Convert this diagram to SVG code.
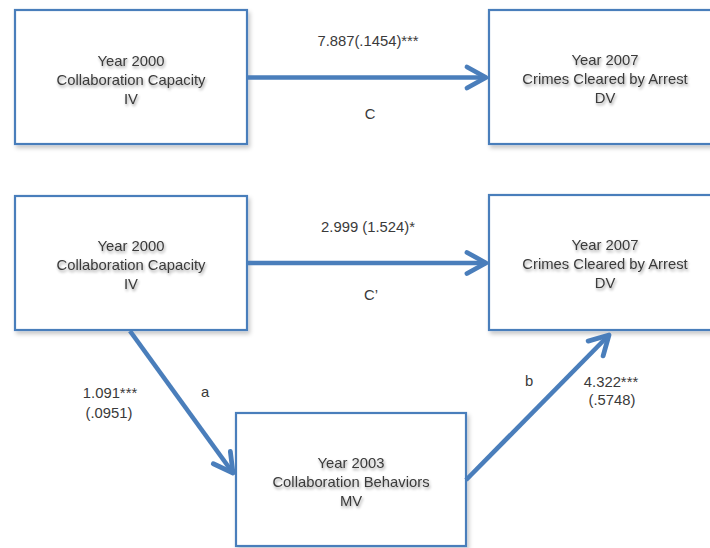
<svg xmlns="http://www.w3.org/2000/svg" width="710" height="548" viewBox="0 0 710 548">
  <defs>
    <style>
      .box { fill: #ffffff; stroke: #4a7ebb; stroke-width: 2.2; filter: url(#boxShadow); }
      .lbl { font-family: "Liberation Sans", Arial, sans-serif; font-size: 14.8px; fill: #3a3a3a; text-anchor: middle; }
      .node-text { filter: url(#textShadow); }
      .conn { stroke: #4a7ebb; stroke-width: 4.6; fill: none; marker-end: url(#openArrow); }
    </style>
    <filter id="boxShadow" x="-10%" y="-10%" width="125%" height="130%">
      <feDropShadow dx="2" dy="3" stdDeviation="2" flood-color="#000" flood-opacity="0.22"/>
    </filter>
    <filter id="textShadow" x="-10%" y="-20%" width="130%" height="160%">
      <feGaussianBlur in="SourceAlpha" stdDeviation="1.7" result="b"/>
      <feOffset in="b" dx="1" dy="2" result="o"/>
      <feComponentTransfer in="o" result="s">
        <feFuncA type="linear" slope="0.4"/>
      </feComponentTransfer>
      <feMerge>
        <feMergeNode in="s"/>
        <feMergeNode in="SourceGraphic"/>
      </feMerge>
    </filter>
    <marker id="openArrow" markerUnits="userSpaceOnUse" viewBox="-26 -15 30 30" refX="0" refY="0" markerWidth="30" markerHeight="30" orient="auto" overflow="visible">
      <path d="M -19 -10.5 L 0 0 L -19 10.5" fill="none" stroke="#4a7ebb" stroke-width="4.8" stroke-linecap="round" stroke-linejoin="round"/>
    </marker>
  </defs>

  <!-- Total effect model -->
  <g id="iv-top">
    <rect class="box" x="15" y="10" width="232" height="134"/>
    <g class="node-text">
      <text class="lbl" x="131" y="66">Year 2000</text>
      <text class="lbl" x="131" y="85">Collaboration Capacity</text>
      <text class="lbl" x="131" y="104">IV</text>
    </g>
  </g>
  <g id="dv-top">
    <rect class="box" x="489" y="10" width="240" height="134"/>
    <g class="node-text">
      <text class="lbl" x="605" y="65">Year 2007</text>
      <text class="lbl" x="605" y="84">Crimes Cleared by Arrest</text>
      <text class="lbl" x="605" y="103">DV</text>
    </g>
  </g>

  <!-- Mediation model -->
  <g id="iv-bottom">
    <rect class="box" x="15" y="196" width="232" height="134"/>
    <g class="node-text">
      <text class="lbl" x="131" y="251">Year 2000</text>
      <text class="lbl" x="131" y="270">Collaboration Capacity</text>
      <text class="lbl" x="131" y="289">IV</text>
    </g>
  </g>
  <g id="dv-bottom">
    <rect class="box" x="489" y="195" width="240" height="135"/>
    <g class="node-text">
      <text class="lbl" x="605" y="250">Year 2007</text>
      <text class="lbl" x="605" y="269">Crimes Cleared by Arrest</text>
      <text class="lbl" x="605" y="288">DV</text>
    </g>
  </g>
  <g id="mv">
    <rect class="box" x="236" y="413" width="230" height="133"/>
    <g class="node-text">
      <text class="lbl" x="351" y="468">Year 2003</text>
      <text class="lbl" x="351" y="487">Collaboration Behaviors</text>
      <text class="lbl" x="351" y="506">MV</text>
    </g>
  </g>

  <!-- Paths between variables -->
  <g id="connectors">
    <line class="conn" x1="248" y1="77.5" x2="486" y2="77.5"/>
    <line class="conn" x1="248" y1="263" x2="486" y2="263"/>
    <line class="conn" x1="130" y1="331" x2="233" y2="473"/>
    <line class="conn" x1="466" y1="480" x2="609" y2="335"/>
  </g>

  <!-- Path coefficients -->
  <g id="path-labels">
    <text class="lbl" x="368" y="46">7.887(.1454)***</text>
    <text class="lbl" x="370" y="119">C</text>
    <text class="lbl" x="368" y="232">2.999 (1.524)*</text>
    <text class="lbl" x="371" y="300">C’</text>
    <text class="lbl" x="110" y="398">1.091***</text>
    <text class="lbl" x="109" y="418">(.0951)</text>
    <text class="lbl" x="205" y="397">a</text>
    <text class="lbl" x="529" y="386">b</text>
    <text class="lbl" x="611" y="387">4.322***</text>
    <text class="lbl" x="612" y="405">(.5748)</text>
  </g>
</svg>
